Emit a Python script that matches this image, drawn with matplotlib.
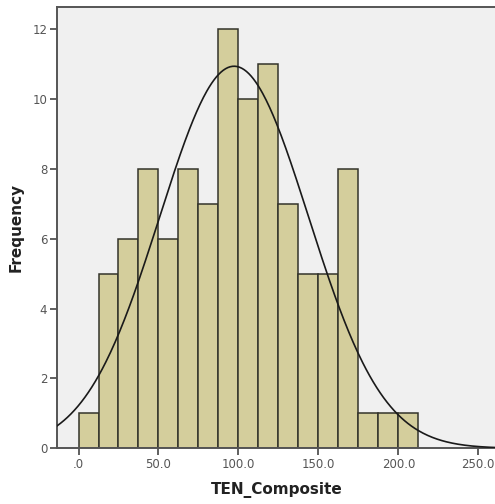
import matplotlib
matplotlib.use("Agg")
import matplotlib.pyplot as plt
import numpy as np

# histogram of TEN_Composite, bins of width 12.5 starting at 0
bin_start = 0.0
bin_width = 12.5
counts = [1, 5, 6, 8, 6, 8, 7, 12, 10, 11, 7, 5, 5, 8, 1, 1, 1]
# normal curve parameters
curve_mean = 97.3
curve_sd = 46.5
xticks = [0, 50, 100, 150, 200, 250]
xticklabels = [".0", "50.0", "100.0", "150.0", "200.0", "250.0"]
yticks = [0, 2, 4, 6, 8, 10, 12]

fig = plt.figure(figsize=(4.95, 5.04), dpi=100)
ax = fig.add_axes([0.115, 0.1105, 0.89, 0.876])
ax.set_facecolor("#F0F0F0")

edges = bin_start + bin_width * np.arange(len(counts))
ax.bar(edges, counts, width=bin_width, align="edge", color="#D4CE9C",
       edgecolor="#33332a", linewidth=1.1, zorder=2)

n = sum(counts)
xs = np.linspace(-20, 270, 400)
ys = n * bin_width / (curve_sd * np.sqrt(2 * np.pi)) * np.exp(-0.5 * ((xs - curve_mean) / curve_sd) ** 2)
ax.plot(xs, ys, color="#1a1a1a", linewidth=1.2, zorder=3)

ax.set_xlim(-13.5, 262)
ax.set_ylim(0, 12.64)
ax.set_xticks(xticks)
ax.set_xticklabels(xticklabels)
ax.set_yticks(yticks)
ax.tick_params(direction="out", length=5, width=1.2, color="#444444",
               labelsize=8.5, labelcolor="#555555", pad=2)

for side in ["left", "bottom", "top", "right"]:
    ax.spines[side].set_color("#555555")
    ax.spines[side].set_linewidth(1.4)

ax.set_xlabel("TEN_Composite", fontsize=11, fontweight="bold", color="#222222", labelpad=8)
ax.set_ylabel("Frequency", fontsize=11, fontweight="bold", color="#222222", labelpad=6)

fig.savefig("out.png", dpi=100)
